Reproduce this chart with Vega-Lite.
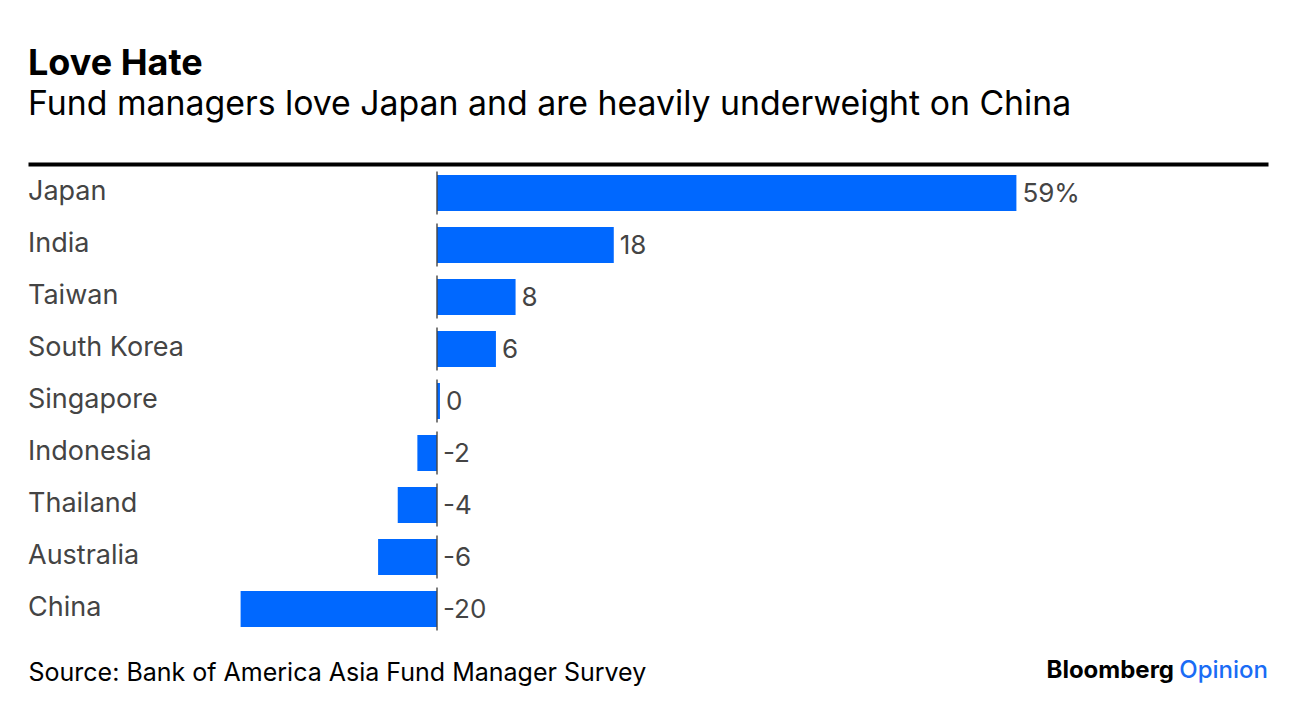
{
  "$schema": "https://vega.github.io/schema/vega-lite/v6.json",
  "width": 1240,
  "height": 474,
  "autosize": {"type": "none"},
  "padding": {"left": 28, "top": 164, "right": 28, "bottom": 76},
  "background": "white",
  "config": {"view": {"stroke": null}, "font": "Inter"},
  "title": {
    "text": "Love Hate",
    "subtitle": "Fund managers love Japan and are heavily underweight on China",
    "anchor": "start",
    "frame": "group",
    "font": "Inter",
    "fontSize": 36,
    "fontWeight": "bold",
    "color": "#000000",
    "subtitleFont": "Inter",
    "subtitleFontSize": 33.8,
    "subtitleColor": "#000000",
    "subtitlePadding": 5,
    "offset": 41
  },
  "data": {
    "values": [
      {"country": "Japan", "value": 59, "label": "59%"},
      {"country": "India", "value": 18, "label": "18"},
      {"country": "Taiwan", "value": 8, "label": "8"},
      {"country": "South Korea", "value": 6, "label": "6"},
      {"country": "Singapore", "value": 0.3, "label": "0"},
      {"country": "Indonesia", "value": -2, "label": "-2"},
      {"country": "Thailand", "value": -4, "label": "-4"},
      {"country": "Australia", "value": -6, "label": "-6"},
      {"country": "China", "value": -20, "label": "-20"}
    ]
  },
  "encoding": {
    "y": {
      "field": "country",
      "type": "nominal",
      "sort": null,
      "scale": {"paddingInner": 0.3077, "paddingOuter": 0.2115},
      "axis": null
    }
  },
  "layer": [
    {
      "mark": {"type": "bar", "color": "#0068ff"},
      "encoding": {
        "x": {
          "field": "value",
          "type": "quantitative",
          "scale": {"domain": [-41.65, 84.62], "nice": false, "zero": false},
          "axis": {
            "orient": "top",
            "domain": true,
            "domainColor": "#000000",
            "domainWidth": 4,
            "ticks": false,
            "labels": false,
            "grid": false,
            "title": null
          }
        }
      }
    },
    {
      "mark": {"type": "tick", "color": "#444444", "size": 43, "thickness": 2},
      "encoding": {"x": {"datum": 0, "axis": null}}
    },
    {
      "mark": {"type": "text", "align": "left", "baseline": "alphabetic", "dy": 7, "font": "Inter", "fontSize": 27, "color": "#444444"},
      "encoding": {
        "x": {"datum": -41.65, "axis": null},
        "text": {"field": "country"}
      }
    },
    {
      "transform": [{"calculate": "max(datum.value, 0)", "as": "lx"}],
      "mark": {"type": "text", "align": "left", "baseline": "alphabetic", "dx": 6, "dy": 9, "font": "Inter", "fontSize": 26, "color": "#444444"},
      "encoding": {
        "x": {
          "field": "lx",
          "type": "quantitative",
          "axis": {
            "orient": "bottom",
            "domain": false,
            "ticks": false,
            "labels": false,
            "grid": false,
            "title": "Source: Bank of America Asia Fund Manager Survey",
            "titleAnchor": "start",
            "titleAlign": "left",
            "titleFont": "Inter",
            "titleFontSize": 25,
            "titleFontWeight": "normal",
            "titleColor": "#000000",
            "titlePadding": 22
          }
        },
        "text": {"field": "label"}
      }
    },
    {
      "data": {"values": [{"t": "Opinion"}]},
      "mark": {"type": "text", "align": "right", "baseline": "alphabetic", "dy": 69, "font": "Inter", "fontSize": 24, "fontWeight": 500, "color": "#1a6cf5"},
      "encoding": {
        "x": {"datum": 84.62, "axis": null},
        "y": {"datum": "China", "axis": null},
        "text": {"field": "t"}
      }
    },
    {
      "data": {"values": [{"t": "Bloomberg"}]},
      "mark": {"type": "text", "align": "right", "baseline": "alphabetic", "dx": -94, "dy": 69, "font": "Inter", "fontSize": 24, "fontWeight": "bold", "color": "#000000"},
      "encoding": {
        "x": {"datum": 84.62, "axis": null},
        "y": {"datum": "China", "axis": null},
        "text": {"field": "t"}
      }
    }
  ]
}
